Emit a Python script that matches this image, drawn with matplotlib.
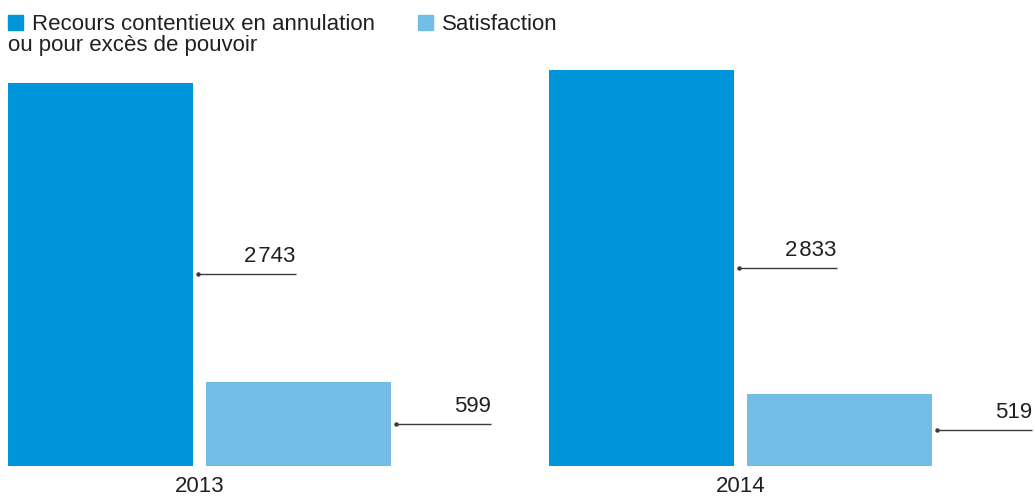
import matplotlib
matplotlib.use("Agg")
import matplotlib.pyplot as plt
from matplotlib.patches import Rectangle

plt.rcParams['font.family'] = ['Liberation Sans', 'DejaVu Sans']

years = ["2013", "2014"]
recours = [2743, 2833]
satisfaction = [599, 519]
series_labels = ["Recours contentieux en annulation\nou pour excès de pouvoir", "Satisfaction"]

DARK = "#0095da"
LIGHT = "#74bde8"
TEXT = "#231f20"

fig = plt.figure(figsize=(10.35, 4.97), dpi=100)
ax = fig.add_axes([0, 31 / 497, 1, 466 / 497])

width = 0.342
offset = 0.183
xs = range(len(years))


def fmt(v):
    s = f"{v:,}"
    return s.replace(",", "\u200a")


def annotate(x_edge, value, length=0.18):
    # leader line from the middle of the bar, value right-aligned above its end
    y = value / 2
    x0 = x_edge + 0.0095
    x1 = x0 + length
    ax.plot([x0, x1], [y, y], color="#3a3a3a", lw=1.0, solid_capstyle="butt")
    ax.plot([x0], [y], "o", color="#3a3a3a", ms=2.2)
    ax.annotate(fmt(value), (x1, y), xytext=(0, 5), textcoords="offset points",
                ha="right", va="bottom", fontsize=16, color=TEXT)


for i in xs:
    ax.bar(i - offset, recours[i], width, color=DARK)
    ax.bar(i + offset, satisfaction[i], width, color=LIGHT)
    annotate(i - offset + width / 2, recours[i])
    annotate(i + offset + width / 2, satisfaction[i], 0.175)

ax.set_xlim(-0.369, 1.544)
ax.set_ylim(0, 3336)
ax.axis("off")

# year labels under each pair of bars
for i in xs:
    ax.annotate(years[i], (i, 0), xytext=(0, -7.5), textcoords="offset points",
                ha="center", va="top", fontsize=16, color=TEXT)

# legend drawn by hand at the top left
colors = [DARK, LIGHT]
lx = [8, 418]
for c, x, lab in zip(colors, lx, series_labels):
    fig.add_artist(Rectangle((x / 1035, 1 - 30 / 497), 15 / 1035, 15 / 497,
                             transform=fig.transFigure, color=c))
    lines = lab.split("\n")
    fig.text((x + 24) / 1035, 1 - 30 / 497, lines[0], fontsize=16,
             color=TEXT, va="baseline", ha="left")
    if len(lines) > 1:
        fig.text(x / 1035, 1 - 51 / 497, lines[1], fontsize=16,
                 color=TEXT, va="baseline", ha="left")

fig.savefig("out.png", dpi=100)
